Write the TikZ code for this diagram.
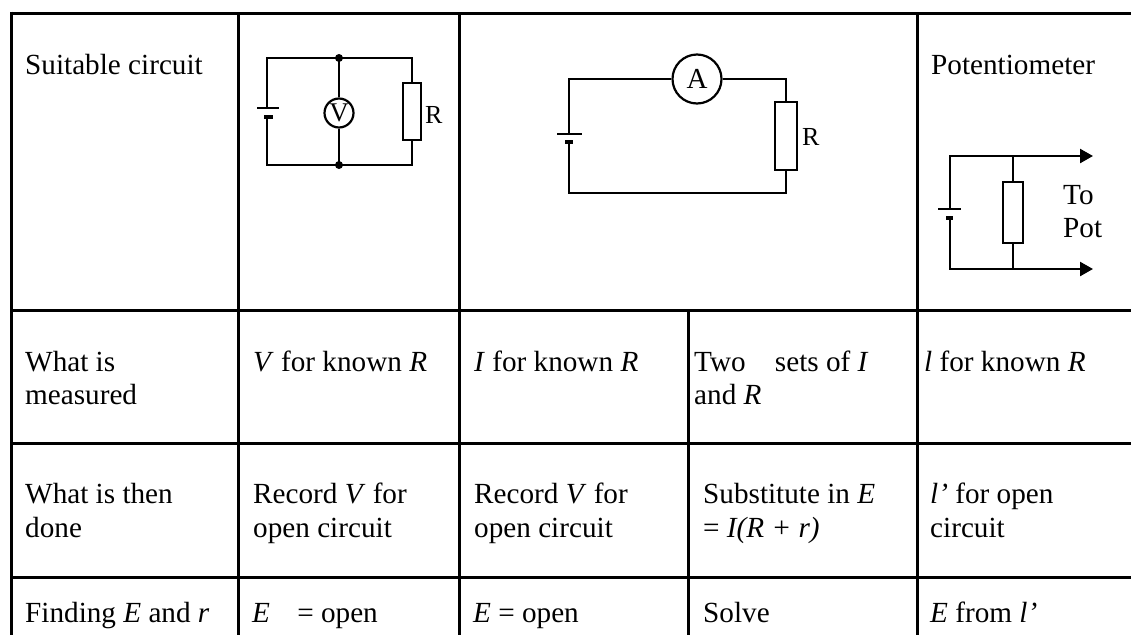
\documentclass[tikz,border=0pt]{standalone}
\usepackage{fontspec}
\setmainfont{Liberation Serif}
\usetikzlibrary{arrows.meta}
\begin{document}
\begin{tikzpicture}[x=1pt,y=-1pt,
  gridline/.style={line width=3pt},
  wire/.style={line width=2.4pt},
  txt/.style={anchor=base west,inner sep=0pt,font=\fontsize{29.2}{34}\selectfont},
  lbl/.style={anchor=base west,inner sep=0pt,font=\fontsize{26}{30}\selectfont},
  resbox/.style={draw,rectangle,line width=2.6pt,inner sep=0pt},
  meter/.style={draw,circle,line width=2.2pt,inner sep=0pt},
  plate/.style={line width=2.4pt},
  shortplate/.style={line width=3.4pt},
  dotj/.style={circle,fill,inner sep=0pt,minimum size=8pt},
  potarrow/.style={wire,-{Triangle[length=13pt,width=14pt]}}
]
\useasboundingbox (0,0) rectangle (1131,635);
% ---------------- table grid ----------------
\draw[gridline] (11,13) -- (1131,13);
\draw[gridline] (11,310) -- (1131,310);
\draw[gridline] (11,443) -- (1131,443);
\draw[gridline] (11,577) -- (1131,577);
\draw[gridline] (11,11.5) -- (11,635);
\draw[gridline] (238,13) -- (238,635);
\draw[gridline] (459.5,13) -- (459.5,635);
\draw[gridline] (688,310) -- (688,635);
\draw[gridline] (917,13) -- (917,635);
% ---------------- row 1 texts ----------------
\node[txt] (t11) at (25,74) {Suitable circuit};
\node[txt] (t15) at (931,74) {Potentiometer};
% ---------------- circuit 1 (voltmeter) ----------------
\coordinate (c1tl) at (267,58);
\coordinate (c1bl) at (267,165);
\coordinate (c1tr) at (412,58);
\coordinate (c1br) at (412,165);
\node[dotj] (c1tm) at (339,58) {};
\node[dotj] (c1bm) at (339,165) {};
\coordinate (c1bp) at (267,108);
\coordinate (c1bn) at (267,117);
\node[meter,minimum size=29pt,font=\fontsize{27}{30}\selectfont] (c1v) at (339,113) {V};
\node[resbox,minimum width=18pt,minimum height=57pt] (c1r) at (412,111.5) {};
\node[lbl] (c1rl) at (425,123) {R};
\draw[plate] (257,108) -- (279,108);
\draw[shortplate] (264,117) -- (273,117);
\draw[wire] (c1bp) -- (c1tl) -- (c1tm.center) -- (c1tr) -- (c1r.north);
\draw[wire] (c1r.south) -- (c1br) -- (c1bm.center) -- (c1bl) -- (c1bn);
\draw[wire] (c1tm.center) -- (c1v.north);
\draw[wire] (c1v.south) -- (c1bm.center);
% ---------------- circuit 2 (ammeter) ----------------
\coordinate (c2tl) at (569,79);
\coordinate (c2tr) at (786,79);
\coordinate (c2br) at (786,193);
\coordinate (c2bl) at (569,193);
\coordinate (c2bp) at (569,134);
\coordinate (c2bn) at (569,142);
\node[meter,minimum size=49pt,font=\fontsize{29}{32}\selectfont] (c2a) at (697,79) {A};
\node[resbox,minimum width=22pt,minimum height=68pt] (c2r) at (786,136) {};
\node[lbl] (c2rl) at (802,145) {R};
\draw[plate] (557,134) -- (582,134);
\draw[shortplate] (565,142) -- (573,142);
\draw[wire] (c2bp) -- (c2tl) -- (c2a.west);
\draw[wire] (c2a.east) -- (c2tr) -- (c2r.north);
\draw[wire] (c2r.south) -- (c2br) -- (c2bl) -- (c2bn);
% ---------------- circuit 3 (potentiometer supply) ----------------
\coordinate (c3tl) at (950,156);
\coordinate (c3tm) at (1013,156);
\coordinate (c3te) at (1093,156);
\coordinate (c3bl) at (950,269);
\coordinate (c3bm) at (1013,269);
\coordinate (c3be) at (1093,269);
\coordinate (c3bp) at (950,209);
\coordinate (c3bn) at (950,218);
\node[resbox,minimum width=20pt,minimum height=61pt] (c3r) at (1013,212.5) {};
\draw[plate] (938,209) -- (961,209);
\draw[shortplate] (946,218) -- (953,218);
\draw[wire] (c3bp) -- (c3tl) -- (c3tm);
\draw[potarrow] (c3tm) -- (c3te);
\draw[wire] (c3tm) -- (c3r.north);
\draw[wire] (c3r.south) -- (c3bm);
\draw[wire] (c3bn) -- (c3bl) -- (c3bm);
\draw[potarrow] (c3bm) -- (c3be);
\node[txt] (c3to) at (1063,204) {To};
\node[txt] (c3pot) at (1063,237) {Pot};
% ---------------- row 2 ----------------
\node[txt] (t21a) at (25,371) {What is};
\node[txt] (t21b) at (25,404) {measured};
\node[txt] (t22) at (253,371) {\textit{V} for known \textit{R}};
\node[txt] (t23) at (474,371) {\textit{I} for known \textit{R}};
\node[txt] (t24a) at (694,371) {Two\hspace{22pt} sets of \textit{I}};
\node[txt] (t24b) at (694,404) {and \textit{R}};
\node[txt] (t25) at (924,371) {\textit{l} for known \textit{R}};
% ---------------- row 3 ----------------
\node[txt] (t31a) at (25,503) {What is then};
\node[txt] (t31b) at (25,537) {done};
\node[txt] (t32a) at (253,503) {Record \textit{V} for};
\node[txt] (t32b) at (253,537) {open circuit};
\node[txt] (t33a) at (474,503) {Record \textit{V} for};
\node[txt] (t33b) at (474,537) {open circuit};
\node[txt] (t34a) at (703,503) {Substitute in \textit{E}};
\node[txt] (t34b) at (703,537) {= \textit{I(R + r)}};
\node[txt] (t35a) at (930,503) {\textit{l’} for open};
\node[txt] (t35b) at (930,537) {circuit};
% ---------------- row 4 ----------------
\node[txt] (t41) at (25,622) {Finding \textit{E} and \textit{r}};
\node[txt] (t42) at (252,622) {\textit{E}\hspace{20pt} = open};
\node[txt] (t43) at (473,622) {\textit{E} = open};
\node[txt] (t44) at (703,622) {Solve};
\node[txt] (t45) at (930,622) {\textit{E} from \textit{l’}};
\end{tikzpicture}
\end{document}
